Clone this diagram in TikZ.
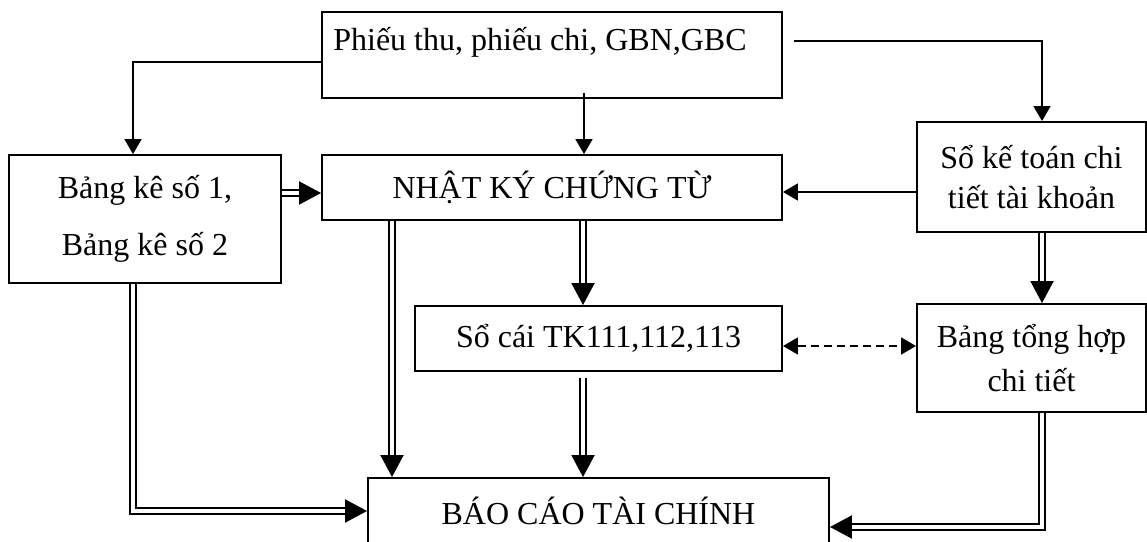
\documentclass[tikz,border=0pt]{standalone}
\usepackage{fontspec}
\setmainfont{Liberation Serif}
\usetikzlibrary{arrows.meta}

\begin{document}
\begin{tikzpicture}[x=1pt, y=1pt,
		txt/.style={inner sep=0pt, align=center, font=\fontsize{32}{40}\selectfont},
		box/.style={txt, draw, line width=1.9pt},
		arr/.style={line width=1.7pt, -{Triangle[length=15pt, width=17pt]}},
		dbl/.style={double, line width=2pt, double distance=3.6pt, -{Triangle[length=22pt, width=23pt]}}]
		\useasboundingbox (0, 0) rectangle (1147, 541);

		\node[box, minimum width=460pt, minimum height=86pt] (src) at (552, 486) {};
		\node[txt] (srctext) at (540, 499) {Phiếu thu, phiếu chi, GBN,GBC};
		\node[box, minimum width=272pt, minimum height=128pt] (bk) at (145, 322) {Bảng kê số 1,\\[17pt] Bảng kê số 2};
		\node[box, minimum width=460pt, minimum height=65pt] (nkct) at (552, 353.5) {NHẬT KÝ CHỨNG TỪ};
		\node[box, minimum width=229pt, minimum height=110pt] (ctk) at (1031.5, 364) {Sổ kế toán chi\\tiết tài khoản};
		\node[box, minimum width=367pt, minimum height=65pt] (sc) at (598.5, 202.5) {Sổ cái TK111,112,113};
		\node[box, minimum width=229pt, minimum height=108pt] (th) at (1031.5, 183) {Bảng tổng hợp\\[4pt] chi tiết};
		\node[box, minimum width=461pt, minimum height=66pt] (bc) at (598.5, 30) {BÁO CÁO TÀI CHÍNH};

		% single arrows
		\draw[arr] ([yshift=-7pt]src.west) -| ([xshift=-12pt]bk.north);
		\draw[arr] ([xshift=32pt, yshift=6pt]src.south) -- ([xshift=32pt]nkct.north);
		\draw[arr] ([xshift=11pt, yshift=14pt]src.east) -| ([xshift=10.5pt]ctk.north);
		\draw[arr] ([yshift=-15pt]ctk.west) -- ([yshift=-15pt]ctk.west -| nkct.east);

		% double arrows
		\draw[dbl] ([yshift=26pt]bk.east) -- ([yshift=26pt]bk.east -| nkct.west);
		\draw[dbl] ([xshift=31pt]nkct.south) -- ([xshift=31pt]nkct.south |- sc.north);
		\draw[dbl] ([xshift=-160pt]nkct.south) -- ([xshift=-160pt]nkct.south |- bc.north);
		\draw[dbl] ([xshift=-15.5pt, yshift=-6pt]sc.south) -- ([xshift=-15.5pt]sc.south |- bc.north);
		\draw[dbl] ([xshift=-12pt]bk.south) |- (bc.west);
		\draw[dbl] ([xshift=10.5pt]ctk.south) -- ([xshift=10.5pt]th.north);
		\draw[dbl] ([xshift=10.5pt]th.south) |- ([yshift=-16pt]bc.east);

		\draw[line width=1.7pt, dash pattern=on 8pt off 5pt, {Triangle[length=15pt, width=17pt]}-{Triangle[length=15pt, width=17pt]}]
		([yshift=-7.5pt]sc.east) -- ([yshift=-7.5pt]sc.east -| th.west);
	\end{tikzpicture}
\end{document}
